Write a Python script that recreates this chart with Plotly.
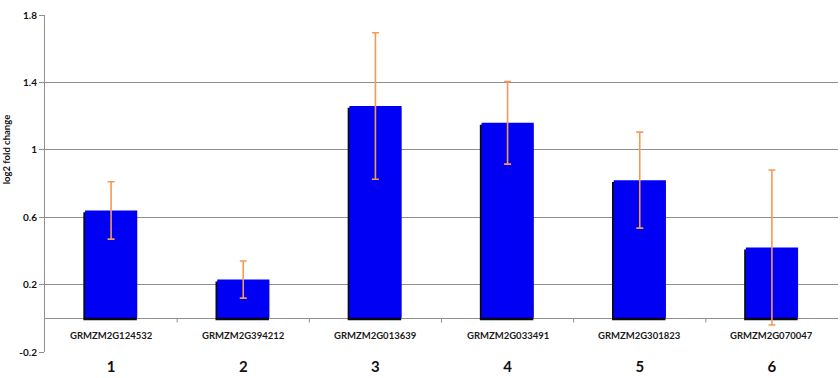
import plotly.graph_objects as go

genes = ["GRMZM2G124532", "GRMZM2G394212", "GRMZM2G013639",
         "GRMZM2G033491", "GRMZM2G301823", "GRMZM2G070047"]
numbers = ["1", "2", "3", "4", "5", "6"]
values = [0.64, 0.23, 1.26, 1.16, 0.82, 0.42]
errors = [0.17, 0.11, 0.435, 0.245, 0.285, 0.46]
ytick_vals = [-0.2, 0.2, 0.6, 1.0, 1.4, 1.8]
ytick_text = ["-0.2", "0.2", "0.6", "1", "1.4", "1.8"]

xs = list(range(len(genes)))
FONT = "Lato, Open Sans, sans-serif"
GRID = "#8f8f8f"

fig = go.Figure()
# shadow of bars
fig.add_trace(go.Bar(x=xs, y=values, base=[-0.011] * len(xs), width=0.405,
                     offset=-0.21, marker=dict(color="#0a0a14", line=dict(width=0)),
                     hoverinfo="skip", showlegend=False))
# main bars
fig.add_trace(go.Bar(x=xs, y=[v - 0.003 for v in values], base=[0.003] * len(xs),
                     width=0.395, offset=-0.197,
                     marker=dict(color="#0000F5", line=dict(width=0)),
                     showlegend=False))
# error bars
fig.add_trace(go.Scatter(x=xs, y=values, mode="markers",
                         marker=dict(size=0.1, color="rgba(0,0,0,0)"),
                         error_y=dict(type="data", array=errors, visible=True,
                                      color="#F59A55", thickness=1.6, width=3.5),
                         showlegend=False))

for i, g in enumerate(genes):
    fig.add_annotation(x=i, y=0, xref="x", yref="y", text=g, showarrow=False,
                       yanchor="top", yshift=-10,
                       font=dict(family=FONT, size=9.5, color="#1a1a1a", weight="bold"))

# category boundary ticks on the zero line
for k in range(1, len(genes)):
    fig.add_shape(type="line", x0=k - 0.5, x1=k - 0.5, y0=0, y1=-0.025,
                  xref="x", yref="y", line=dict(color=GRID, width=1))

fig.add_annotation(xref="paper", yref="y", x=0, y=1.0, xshift=-46,
                   text="log2 fold change", textangle=-90, showarrow=False,
                   font=dict(family=FONT, size=9.5, color="#111111", weight="bold"))

fig.update_layout(
    width=840, height=378,
    margin=dict(l=45, r=2, t=15, b=26),
    paper_bgcolor="white", plot_bgcolor="white",
    barmode="overlay",
    xaxis=dict(range=[-0.5, 5.5], tickvals=xs, ticktext=numbers,
               showgrid=False, zeroline=False, showline=False, ticks="",
               tickfont=dict(family=FONT, size=15, color="#111111", weight="bold"),
               ticklabelstandoff=4),
    yaxis=dict(range=[-0.2, 1.8], tickvals=ytick_vals, ticktext=ytick_text,
               showgrid=True, gridcolor=GRID, gridwidth=1,
               zeroline=True, zerolinecolor=GRID, zerolinewidth=1,
               showline=True, linecolor=GRID, linewidth=1,
               ticks="outside", ticklen=5, tickcolor=GRID,
               tickfont=dict(family=FONT, size=10, color="#111111", weight="bold")),
)

fig.write_html("out.html")
